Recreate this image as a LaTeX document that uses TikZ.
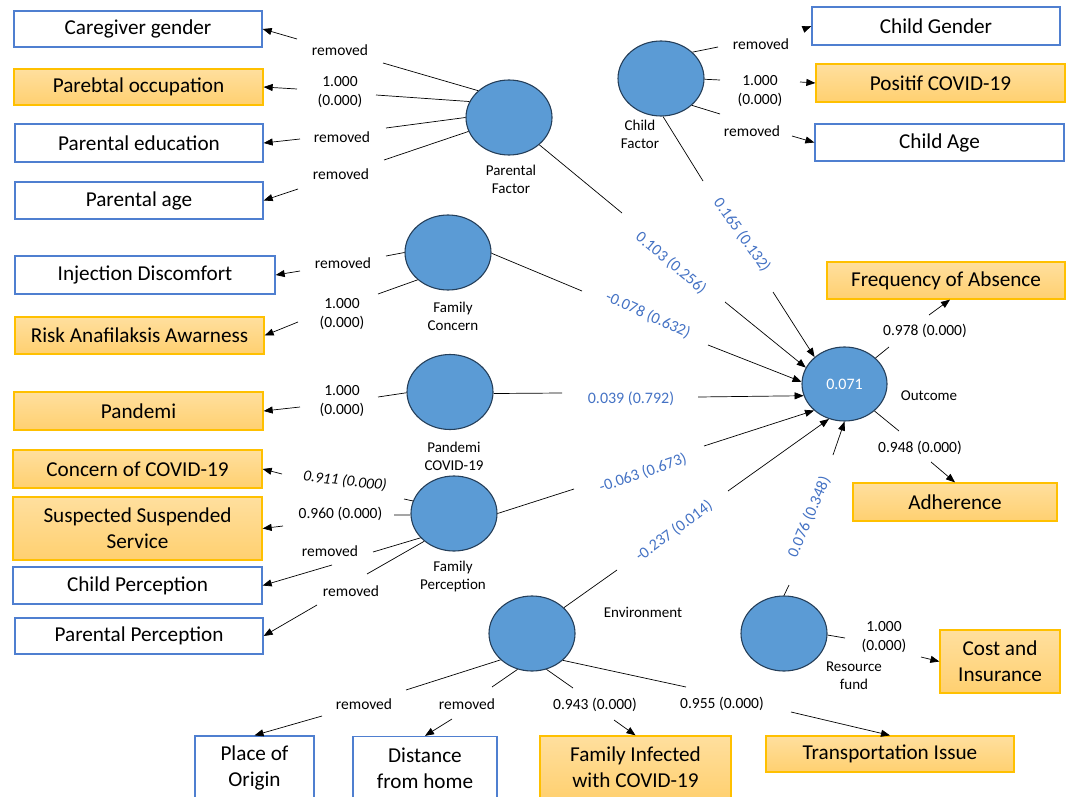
\documentclass[tikz,border=0pt]{standalone}
\usepackage{fontspec}
\setmainfont{Carlito}
\usetikzlibrary{shapes.geometric,arrows.meta}
\definecolor{circfill}{HTML}{5B9BD5}
\definecolor{circline}{HTML}{253F5A}
\definecolor{boxblue}{HTML}{4F7FD0}
\definecolor{boxorange}{HTML}{FFC000}
\definecolor{orangetop}{HTML}{FFDF9E}
\definecolor{orangebot}{HTML}{FFD070}
\definecolor{pathblue}{HTML}{4472C4}
\tikzset{
  latent/.style={ellipse, draw=circline, line width=1.1pt, fill=circfill, minimum width=86pt, minimum height=75pt, inner sep=0pt},
  wbox/.style={rectangle, draw=boxblue, line width=1.3pt, fill=white, inner sep=0pt, align=center, font=\fontsize{21.2}{26}\selectfont},
  obox/.style={wbox, draw=boxorange, top color=orangetop, bottom color=orangebot},
  lab/.style={font=\fontsize{15.5}{19}\selectfont, align=center, inner sep=0pt},
  plab/.style={lab, text=pathblue, font=\fontsize{16}{19}\selectfont},
  lname/.style={font=\fontsize{15}{18}\selectfont, align=center, inner sep=0pt},
  ln/.style={line width=0.7pt},
  arr/.style={ln, -{Triangle[length=9pt,width=7pt]}}
}
\begin{document}
\begin{tikzpicture}[x=1pt,y=-1pt]
\useasboundingbox (0,0) rectangle (1068,797);
\clip (0,0) rectangle (1068,797);
% latent variables
\node[latent] (pf) at (509,117.5) {};
\node[latent] (cf) at (661,78.5) {};
\node[latent] (fc) at (448,252.5) {};
\node[latent] (pc) at (450,392) {};
\node[latent] (fp) at (454,513.5) {};
\node[latent] (en) at (532,633.5) {};
\node[latent] (rf) at (784,633.5) {};
\node[latent, minimum width=85pt, minimum height=74pt, text=white, font=\fontsize{16}{19}\selectfont] (out) at (844.5,384) {0.071};
% latent names
\node[lname] (npf) at (511,179) {Parental\\Factor};
\node[lname] (ncf) at (640,134) {Child\\Factor};
\node[lname] (nfc) at (453,316.5) {Family\\Concern};
\node[lname] (npc) at (454,456) {Pandemi\\COVID-19};
\node[lname] (nfp) at (453,576.5) {Family\\Perception};
\node[lname] (nen) at (643,612) {Environment};
\node[lname] (nrf) at (854,676) {Resource\\fund};
\node[lname] (nout) at (929,396) {Outcome};
% indicator boxes
\node[wbox, minimum width=248pt, minimum height=36pt] (cg) at (138,29) {Caregiver gender};
\node[obox, minimum width=249pt, minimum height=36pt] (po) at (138.5,87) {Parebtal occupation};
\node[wbox, minimum width=248pt, minimum height=38pt] (pe) at (139,143) {Parental education};
\node[wbox, minimum width=248pt, minimum height=37pt] (pa) at (139,200.5) {Parental age};
\node[wbox, minimum width=260pt, minimum height=38pt] (id) at (145,275) {Injection Discomfort};
\node[obox, minimum width=249pt, minimum height=37pt] (ra) at (139.5,335.5) {Risk Anafilaksis Awarness};
\node[obox, minimum width=249pt, minimum height=38pt] (pd) at (138.5,411) {Pandemi};
\node[obox, minimum width=249pt, minimum height=38pt] (cc) at (137.5,469) {Concern of COVID-19};
\node[obox, minimum width=249pt, minimum height=63pt] (ss) at (137.5,528.5) {Suspected Suspended\\Service};
\node[wbox, minimum width=249pt, minimum height=37pt] (chp) at (137.5,585.5) {Child Perception};
\node[wbox, minimum width=248pt, minimum height=36pt] (pp) at (139,636) {Parental Perception};
\node[wbox, minimum width=248pt, minimum height=38pt] (cgd) at (936,26) {Child Gender};
\node[obox, minimum width=249pt, minimum height=38pt] (pcv) at (940.5,83) {Positif COVID-19};
\node[wbox, minimum width=249pt, minimum height=37pt] (ca) at (939.5,142.5) {Child Age};
\node[obox, minimum width=238pt, minimum height=37pt] (fa) at (946,280.5) {Frequency of Absence};
\node[obox, minimum width=204pt, minimum height=38pt] (ad) at (955,502) {Adherence};
\node[obox, minimum width=120pt, minimum height=63pt] (ci) at (1000,661.5) {Cost and\\Insurance};
\node[wbox, minimum width=119pt, minimum height=63pt] (org) at (254.5,767.5) {Place of\\Origin};
\node[wbox, minimum width=144pt, minimum height=63pt] (dh) at (425,768) {Distance\\from home};
\node[obox, minimum width=191pt, minimum height=63pt] (fi) at (635.5,767.5) {Family Infected\\with COVID-19};
\node[obox, minimum width=248pt, minimum height=36pt] (ti) at (890,754) {Transportation Issue};
% ---------- Parental Factor
\coordinate (a1) at (383,63); \coordinate (b1) at (297,39);
\node[lab] (l1) at (340,50) {removed};
\draw[ln] (pf.139.5) -- (a1); \draw[arr] (b1) -- (cg.east);
\coordinate (a2) at (376,95); \coordinate (b2) at (297,89);
\node[lab] (l2) at (340,92.5) {1.000\\(0.000)};
\draw[ln] (pf.158.8) -- (a2); \draw[arr] (b2) -- (po.east);
\coordinate (a3) at (386,128); \coordinate (b3) at (300,139);
\node[lab] (l3) at (342,137) {removed};
\draw[ln] (pf.180.7) -- (a3); \draw[arr] (b3) -- (pe.east);
\coordinate (a4) at (384,160); \coordinate (b4) at (298,189);
\node[lab] (l4) at (341,174) {removed};
\draw[ln] (pf.199.9) -- (a4); \draw[arr] (b4) -- (pa.east);
\coordinate (a5) at (622,213); \coordinate (b5) at (725,302);
\node[plab, rotate=-40] (l5) at (671,263) {0.103 (0.256)};
\draw[ln] (pf.318.4) -- (a5); \draw[arr] (b5) -- (out.157.7);
% ---------- Child Factor
\coordinate (a6) at (718,47); \coordinate (b6) at (804,29);
\node[lab] (l6) at (761,44) {removed};
\draw[ln] (cf.40.5) -- (a6); \draw[arr] (b6) -- (cgd.west);
\coordinate (a7) at (720,80); \coordinate (b7) at (800,82);
\node[lab] (l7) at (760,91.5) {1.000\\(0.000)};
\draw[ln] (cf.359.3) -- (a7); \draw[arr] (b7) -- (pcv.west);
\coordinate (a8) at (720,114); \coordinate (b8) at (792,136);
\node[lab] (l8) at (752,131) {removed};
\draw[ln] (cf.319.3) -- (a8); \draw[arr] (b8) -- (ca.west);
\coordinate (a9) at (703,181); \coordinate (b9) at (773,292);
\node[plab, rotate=-54.5] (l9) at (742,235) {0.165 (0.132)};
\draw[ln] (cf.273) -- (a9); \draw[arr] (b9) -- (out.138.5);
% ---------- Family Concern
\coordinate (a10) at (386,256); \coordinate (b10) at (300,271);
\node[lab] (l10) at (343,263) {removed};
\draw[ln] (fc.180.7) -- (a10); \draw[arr] (b10) -- (id.east);
\coordinate (a11) at (378,294); \coordinate (b11) at (298,322);
\node[lab] (l11) at (342,314.5) {1.000\\(0.000)};
\draw[ln] (fc.222.5) -- (a11); \draw[arr] (b11) -- (ra.east);
\coordinate (a12) at (582,291); \coordinate (b12) at (708,345);
\node[plab, rotate=-24.5] (l12) at (648,315) {-0.078 (0.632)};
\draw[ln] (fc.359.3) -- (a12); \draw[arr] (b12) -- (out.177.4);
% ---------- Pandemi COVID-19
\coordinate (a13) at (378,397); \coordinate (b13) at (300,407);
\node[lab] (l13) at (342,401.5) {1.000\\(0.000)};
\draw[ln] (pc.181.3) -- (a13); \draw[arr] (b13) -- (pd.east);
\coordinate (a14) at (562,393); \coordinate (b14) at (698,397);
\node[plab] (l14) at (631,399) {0.039 (0.792)};
\draw[ln] (pc.358.7) -- (a14); \draw[arr] (b14) -- (out.196);
% ---------- Family Perception
\coordinate (a15) at (404,499); \coordinate (b15) at (282,474);
\node[lab, font=\fontsize{15.5}{19}\selectfont\itshape, rotate=-6.6] (l15) at (345,481) {0.911 (0.000)};
\draw[ln] (fp.163.4) -- (a15); \draw[arr] (b15) -- (cc.east);
\coordinate (a16) at (394,515); \coordinate (b16) at (283,526);
\node[lab] (l16) at (340.5,514) {0.960 (0.000)};
\draw[ln] (fp.182) -- (a16); \draw[arr] (b16) -- (ss.east);
\coordinate (a17) at (373,552); \coordinate (b17) at (332,565);
\node[lab] (l17) at (330,551) {removed};
\draw[ln] (fp.216.4) -- (a17); \draw[arr] (b17) -- (chp.east);
\coordinate (a18) at (367,574); \coordinate (b18) at (317,605);
\node[lab] (l18) at (351,591) {removed};
\draw[ln] (fp.223.5) -- (a18); \draw[arr] (b18) -- (pp.east);
\coordinate (a19) at (574,489); \coordinate (b19) at (704,446);
\node[plab, rotate=19] (l19) at (643,473) {-0.063 (0.673)};
\draw[ln] (fp.0) -- (a19); \draw[arr] (b19) -- (out.221.5);
% ---------- Environment
\coordinate (a20) at (617,570); \coordinate (b20) at (728,491);
\node[plab, rotate=36.6] (l20) at (674,531) {-0.237 (0.014)};
\draw[ln] (en.39.6) -- (a20); \draw[arr] (b20) -- (out.246.4);
\coordinate (a21) at (406,690); \coordinate (b21) at (322,716);
\node[lab] (l21) at (364,704) {removed};
\draw[ln] (en.220.7) -- (a21); \draw[arr] (b21) -- (org.north);
\coordinate (a22) at (492,687); \coordinate (b22) at (452,719);
\node[lab] (l22) at (467,704) {removed};
\draw[ln] (en.248.5) -- (a22); \draw[arr] (b22) -- (dh.north);
\coordinate (a23) at (573,688); \coordinate (b23) at (614,720);
\node[lab] (l23) at (595,705) {0.943 (0.000)};
\draw[ln] (en.292.3) -- (a23); \draw[arr] (b23) -- (fi.north);
\coordinate (a24) at (686,687); \coordinate (b24) at (791,712);
\node[lab] (l24) at (722,704) {0.955 (0.000)};
\draw[ln] (en.319.3) -- (a24); \draw[arr] (b24) -- (ti.north);
% ---------- Resource fund
\coordinate (a25) at (789,585); \coordinate (b25) at (833,455);
\node[plab, rotate=67] (l25) at (809,517) {0.076 (0.348)};
\draw[ln] (rf.90) -- (a25); \draw[arr] (b25) -- (out.270.7);
\coordinate (a26) at (845,638); \coordinate (b26) at (921,657);
\node[lab] (l26) at (884,637) {1.000\\(0.000)};
\draw[ln] (rf.358) -- (a26); \draw[arr] (b26) -- (ci.west);
% ---------- Outcome indicators
\coordinate (a27) at (889,347); \coordinate (b27) at (929,315);
\node[lab] (l27) at (925,331) {0.978 (0.000)};
\draw[ln] (out.40.4) -- (a27); \draw[arr] (b27) -- ([xshift=4pt]fa.south);
\coordinate (a28) at (899,431); \coordinate (b28) at (931,462);
\node[lab] (l28) at (920,448) {0.948 (0.000)};
\draw[ln] (out.318.5) -- (a28); \draw[arr] (b28) -- (ad.north);
\end{tikzpicture}
\end{document}
